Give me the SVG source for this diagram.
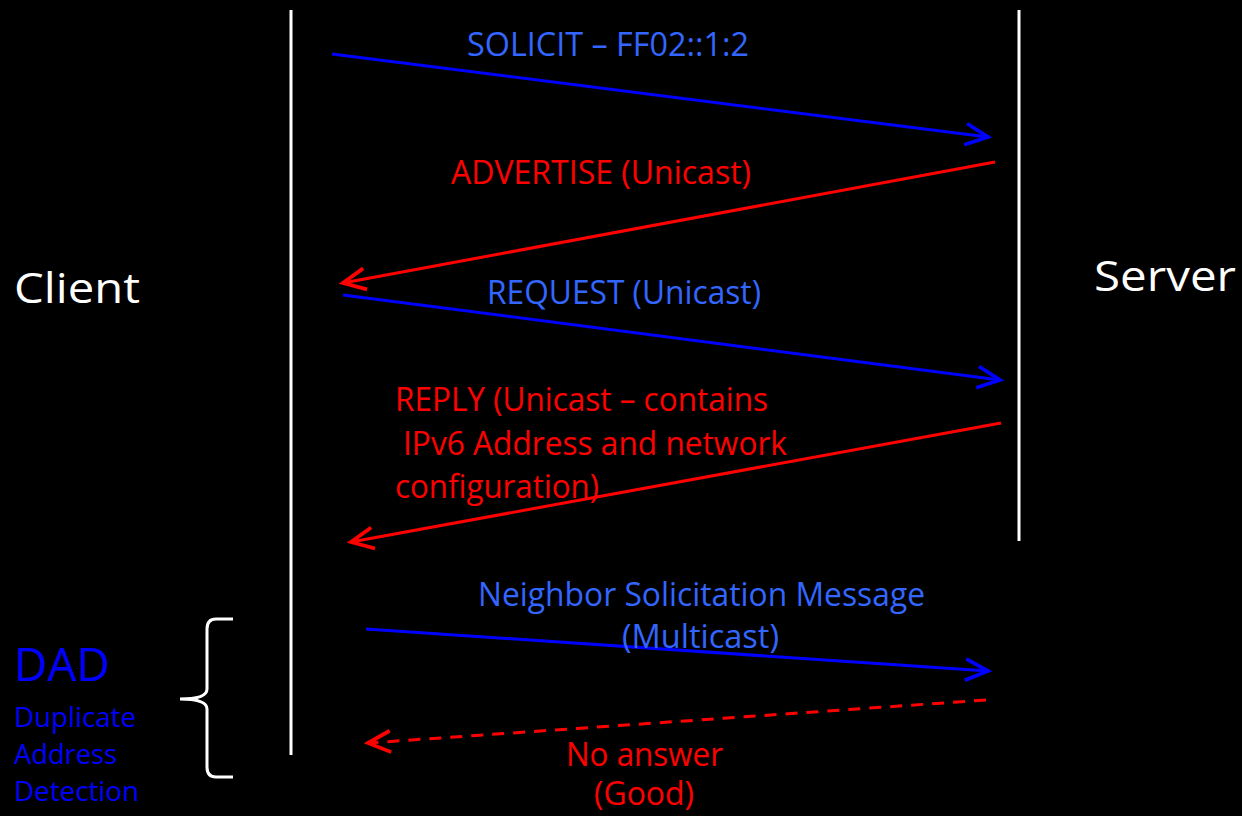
<svg xmlns="http://www.w3.org/2000/svg" width="1242" height="816" viewBox="0 0 1242 816">
  <style>
    text { font-family: "Open Sans", "Liberation Sans", sans-serif; }
    .lbl { font-size: 32px; }
    .blue-t { fill: #3366FF; }
    .red-t { fill: #FF0000; }
    .party { font-size: 42px; fill: #FFFFFF; }
    .life { stroke: #FFFFFF; stroke-width: 3; fill: none; }
    .msg-b { stroke: #0000FF; stroke-width: 3; fill: none; marker-end: url(#headBlue); }
    .msg-r { stroke: #FF0000; stroke-width: 3; fill: none; marker-end: url(#headRed); }
    .dashed { stroke-dasharray: 12 9; }
  </style>
  <defs>
    <marker id="headBlue" markerUnits="userSpaceOnUse" markerWidth="30" markerHeight="30" refX="0" refY="0" viewBox="-24 -12 28 24" orient="auto" overflow="visible">
      <path d="M-21,-10 L0,0 L-21,10" fill="none" stroke="#0000FF" stroke-width="3.5"/>
    </marker>
    <marker id="headRed" markerUnits="userSpaceOnUse" markerWidth="30" markerHeight="30" refX="0" refY="0" viewBox="-24 -12 28 24" orient="auto" overflow="visible">
      <path d="M-21,-10 L0,0 L-21,10" fill="none" stroke="#FF0000" stroke-width="3.5"/>
    </marker>
  </defs>

  <rect x="0" y="0" width="1242" height="816" fill="#000000"/>

  <!-- participants -->
  <g id="client">
    <line class="life" x1="291" y1="10" x2="291" y2="755"/>
    <text class="party" x="14" y="303" textLength="126" lengthAdjust="spacingAndGlyphs">Client</text>
  </g>
  <g id="server">
    <line class="life" x1="1019" y1="10" x2="1019" y2="541"/>
    <text class="party" x="1094" y="291" textLength="142" lengthAdjust="spacingAndGlyphs">Server</text>
  </g>

  <!-- DAD annotation with brace -->
  <g id="dad">
    <path class="life" d="M233,619 L216,619 Q207,619 207,629 L207,689 Q207,699 180,699 Q207,699 207,709 L207,767 Q207,777 216,777 L233,777"/>
    <text x="14" y="681" font-size="45" fill="#0000FF" textLength="96" lengthAdjust="spacingAndGlyphs">DAD</text>
    <text x="14" y="727" font-size="27" fill="#0000FF" textLength="122" lengthAdjust="spacingAndGlyphs">Duplicate</text>
    <text x="14" y="764" font-size="27" fill="#0000FF" textLength="103" lengthAdjust="spacingAndGlyphs">Address</text>
    <text x="14" y="801" font-size="27" fill="#0000FF" textLength="125" lengthAdjust="spacingAndGlyphs">Detection</text>
  </g>

  <!-- message connectors -->
  <g id="connectors">
    <line class="msg-b" x1="332" y1="54" x2="988" y2="137"/>
    <line class="msg-r" x1="995" y1="162" x2="343" y2="283"/>
    <line class="msg-b" x1="343" y1="295" x2="1000" y2="380"/>
    <line class="msg-r" x1="1001" y1="423" x2="351" y2="542"/>
    <line class="msg-b" x1="366" y1="629" x2="988" y2="671"/>
    <line class="msg-r dashed" x1="986" y1="700" x2="368" y2="743"/>
  </g>

  <!-- message labels -->
  <g id="labels" class="lbl">
    <text class="blue-t" x="467" y="56" textLength="282" lengthAdjust="spacingAndGlyphs">SOLICIT – FF02::1:2</text>
    <text class="red-t" x="451" y="184" textLength="300" lengthAdjust="spacingAndGlyphs">ADVERTISE (Unicast)</text>
    <text class="blue-t" x="487" y="304" textLength="274" lengthAdjust="spacingAndGlyphs">REQUEST (Unicast)</text>
    <text class="red-t" x="395" y="411" textLength="373" lengthAdjust="spacingAndGlyphs">REPLY (Unicast – contains</text>
    <text class="red-t" x="403" y="455" textLength="384" lengthAdjust="spacingAndGlyphs">IPv6 Address and network</text>
    <text class="red-t" x="395" y="498" textLength="204" lengthAdjust="spacingAndGlyphs">configuration)</text>
    <text class="blue-t" x="478" y="606" textLength="447" lengthAdjust="spacingAndGlyphs">Neighbor Solicitation Message</text>
    <text class="blue-t" x="622" y="648" textLength="157" lengthAdjust="spacingAndGlyphs">(Multicast)</text>
    <text class="red-t" x="566" y="766" textLength="157" lengthAdjust="spacingAndGlyphs">No answer</text>
    <text class="red-t" x="594" y="805" textLength="100" lengthAdjust="spacingAndGlyphs">(Good)</text>
  </g>
</svg>
